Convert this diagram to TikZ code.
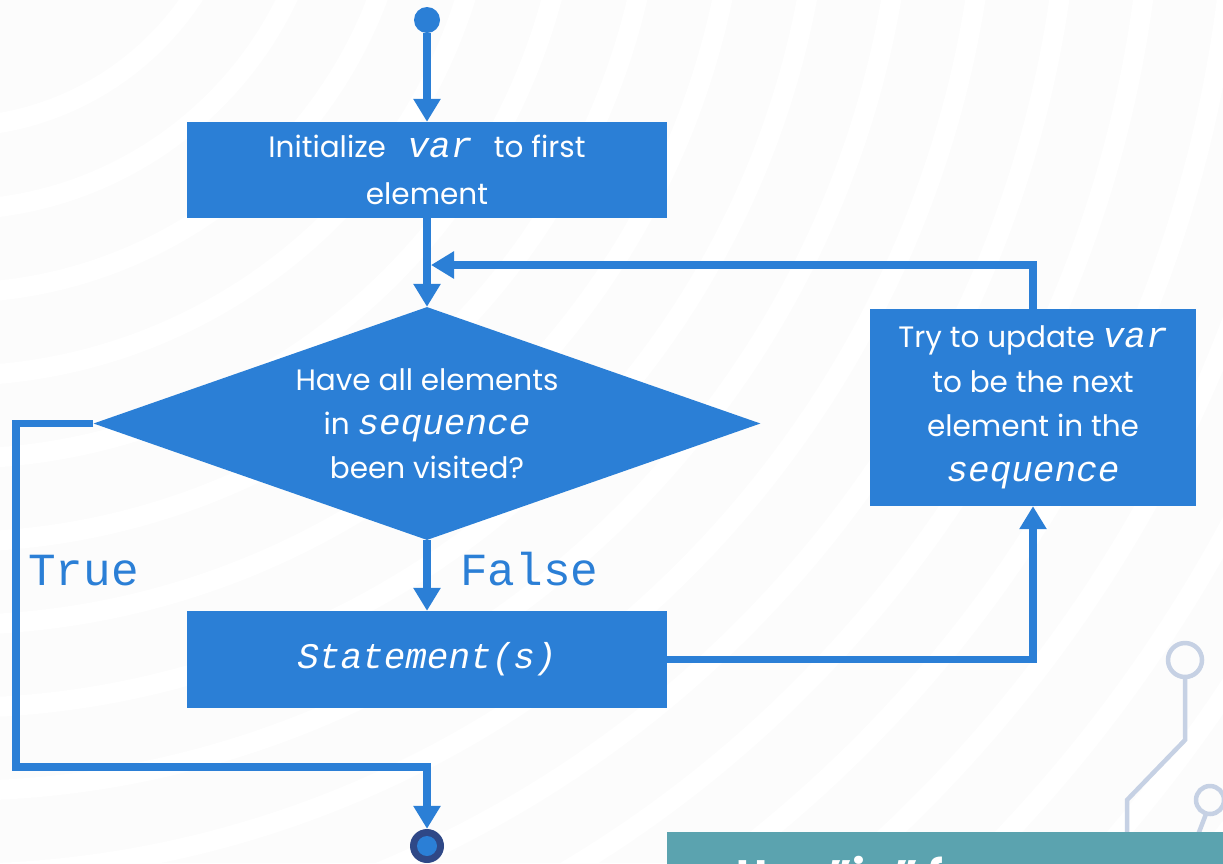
\documentclass[tikz,border=0pt]{standalone}
\usepackage{fontspec}
\setmainfont{Poppins}
\newfontfamily\codefont{Liberation Mono}
\usetikzlibrary{shapes.geometric,arrows.meta}

\definecolor{flowblue}{RGB}{43,127,214}
\definecolor{endnavy}{RGB}{47,72,135}
\definecolor{noteteal}{RGB}{91,163,175}
\definecolor{traceblue}{RGB}{198,209,228}
\definecolor{paper}{RGB}{252,252,252}

% code words: italic typewriter
\newcommand\cv[1]{{\codefont\itshape\fontsize{36pt}{36pt}\selectfont #1}}

\begin{document}
\begin{tikzpicture}[x=1pt,y=-1pt,
  stepbox/.style={fill=flowblue, text=white, inner sep=0pt, align=center,
    font=\fontsize{29.5pt}{47pt}\selectfont},
  decision/.style={diamond, aspect=2.86, fill=flowblue, text=white, inner sep=0pt,
    align=center, minimum width=667pt, minimum height=233pt,
    font=\fontsize{29.5pt}{44pt}\selectfont},
  flow/.style={draw=flowblue, line width=7.5pt,
    -{Triangle[width=26pt,length=23pt]}},
  branch/.style={text=flowblue, inner sep=0pt, anchor=base west,
    font=\codefont\fontsize{46pt}{46pt}\selectfont},
  trace/.style={draw=traceblue, line width=4.5pt},
]
\useasboundingbox (0,0) rectangle (1223,863);

% soft background bands
\begin{scope}
  \clip (0,0) rectangle (1223,863);
  \fill[paper] (0,0) rectangle (1223,863);
  \foreach \r in {290,373,456,...,1800}
    \draw[white, line width=20pt] (-49,-163) circle (\r pt);
\end{scope}

% flowchart nodes
\node[circle, fill=flowblue, minimum size=26pt, inner sep=0pt] (start) at (427,20) {};
\node[stepbox, minimum width=480pt, minimum height=96pt] (init) at (427,170)
  {Initialize\cv{~var~}to first\\element};
\node[decision] (dec) at (427,423.5)
  {Have all elements\\in \cv{sequence}\\been visited?};
\node[stepbox, minimum width=480pt, minimum height=97pt] (stmt) at (427,659.5)
  {\cv{Statement(s)}};
\node[stepbox, minimum width=326pt, minimum height=197pt,
  font=\fontsize{29.5pt}{44.5pt}\selectfont] (upd) at (1033,407.5)
  {Try to update \cv{var}\\to be the next\\element in the\\\cv{sequence}};
\node[circle, fill=endnavy, minimum size=34pt, inner sep=0pt] (stop) at (427,846) {};
\fill[flowblue] (stop.center) circle (10pt);

% branch labels
\node[branch] (truelbl) at (28,585) {True};
\node[branch] (falselbl) at (460,585) {False};

% bend points
\coordinate (join) at (431,265);
\coordinate (tl) at (16,423.5);
\coordinate (bl) at (16,767);
\coordinate (br) at (427,767);

% connectors
\draw[flow] (start) -- (init);
\draw[flow] (init) -- (dec);
\draw[flow] (dec) -- (stmt);
\draw[flow] (stmt.east) -| (upd.south);
\draw[flow] (upd.north) |- (join);
\draw[flow] (dec.west) -- (tl) -- (bl) -- (br) -- (stop.north);

% circuit trace ornament
\draw[trace] (1185,660) circle (17pt);
\draw[trace] (1185,677) -- (1185,740) -- (1127,800) -- (1127,840);
\draw[trace] (1210,800) circle (14pt);
\draw[trace] (1206,814) -- (1196,840);

% note bar along the bottom edge
\node[fill=noteteal, anchor=north west, minimum width=556pt, minimum height=60pt,
  inner sep=0pt] (note) at (667,832) {};
\node[text=white, anchor=base west, inner sep=0pt,
  font=\bfseries\fontsize{44pt}{44pt}\selectfont] (notetext) at (736,891)
  {Use "in" for ...};
\end{tikzpicture}
\end{document}
